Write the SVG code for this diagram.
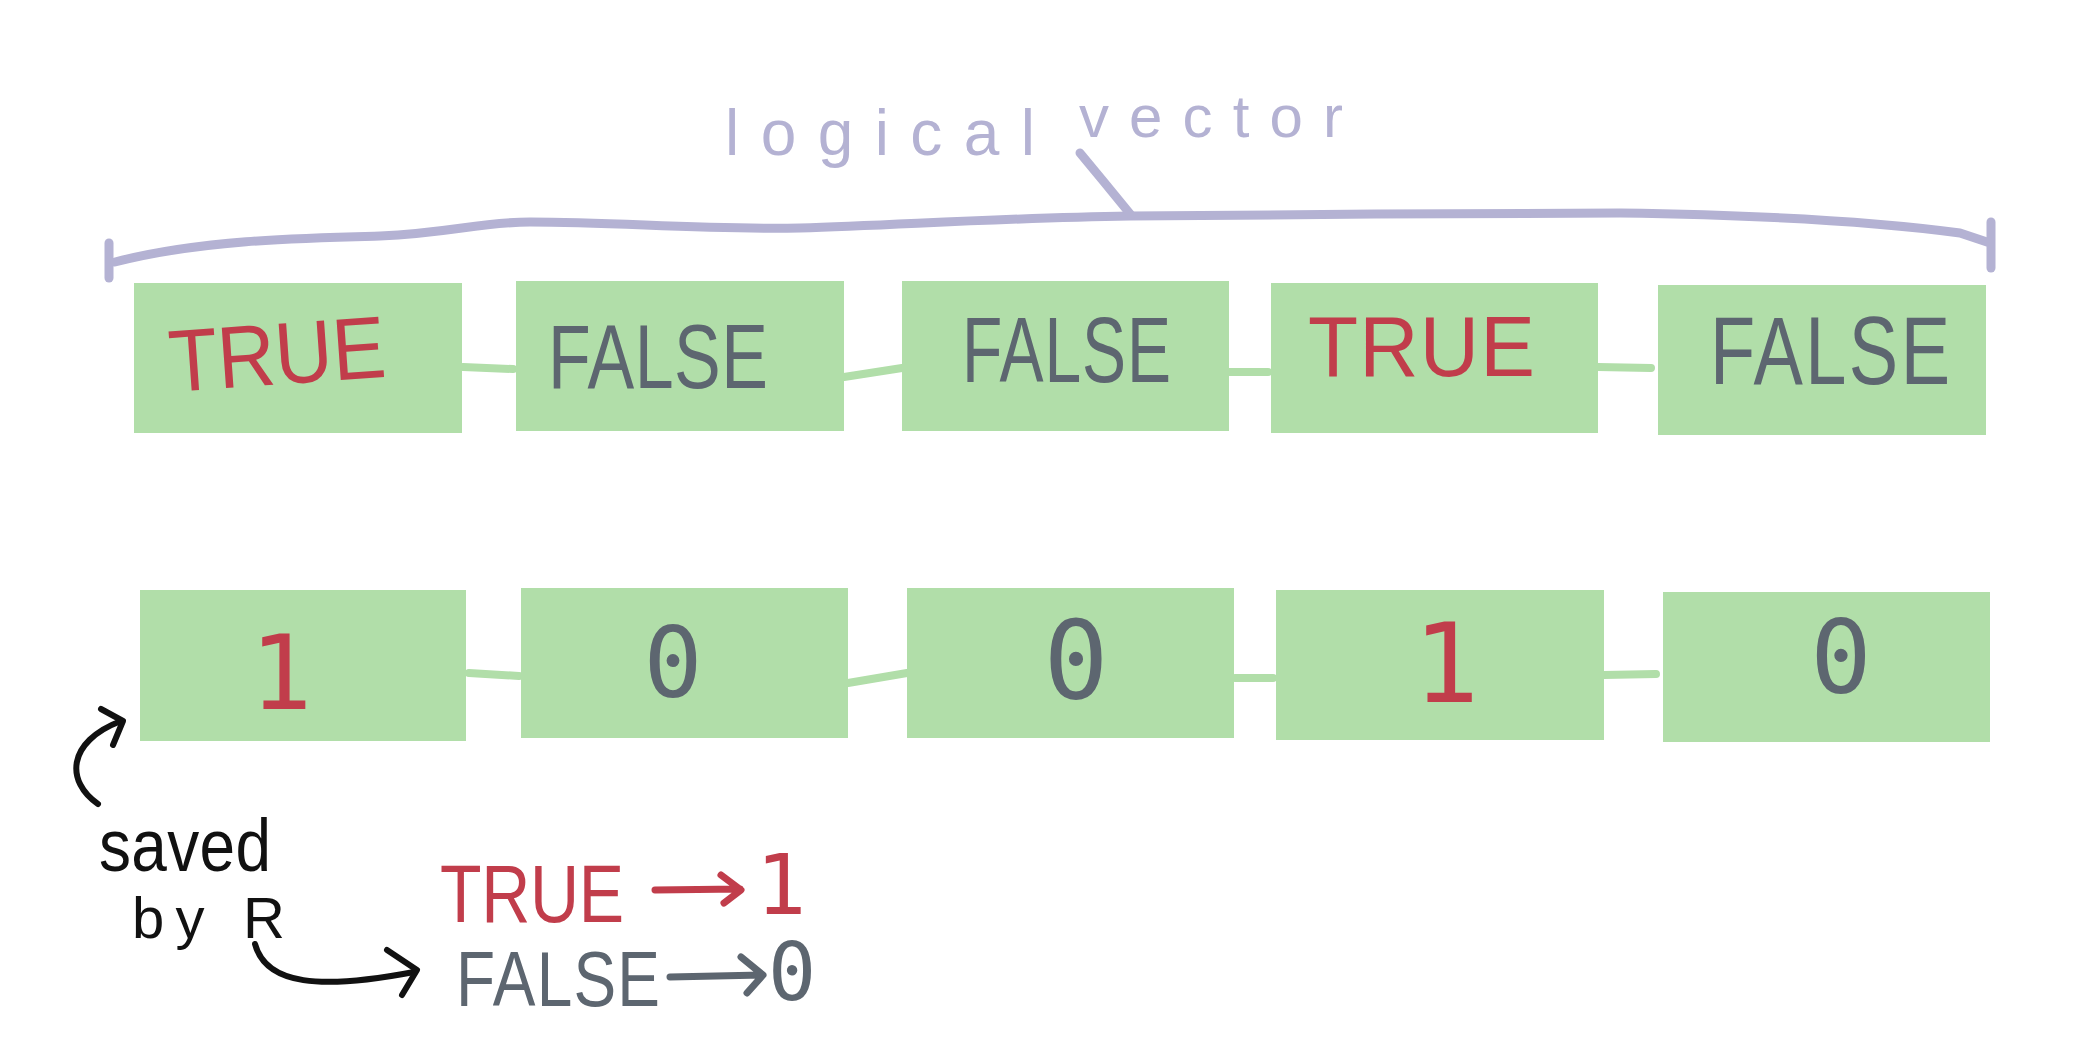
<svg xmlns="http://www.w3.org/2000/svg" width="2075" height="1038" viewBox="0 0 2075 1038">
<style>
.box{fill:#b1dea9}
.conn{stroke:#b1dea9;stroke-width:8;stroke-linecap:round;fill:none}
.lav{stroke:#b4b2d3;stroke-width:9;stroke-linecap:round;stroke-linejoin:round;fill:none}
.blk{stroke:#111;stroke-width:6;stroke-linecap:round;stroke-linejoin:round;fill:none}
.t{font-family:"Liberation Sans","DejaVu Sans",sans-serif}
.d{font-family:"DejaVu Sans Mono","Liberation Mono",monospace}
.red{fill:#c13d4b}
.gry{fill:#5d6670}
.lavt{fill:#b4b2d3}
.blkt{fill:#111}
</style>
<rect width="2075" height="1038" fill="#fff"/>
<g id="bracket">
<path class="lav" d="M109,243 L109,278"/>
<path class="lav" d="M115,262 C200,240 300,238 380,236 C450,233 480,222 530,222 C620,222 700,230 800,228 C900,225 1000,218 1130,216 C1300,215 1450,213 1620,213 C1760,215 1880,222 1960,233 L1987,242"/>
<path class="lav" d="M1991,222 L1991,268"/>
<path class="lav" d="M1080,153 L1104,182 L1131,215"/>
<text class="t lavt" x="725" y="155" font-size="64" textLength="310">logical</text>
<text class="t lavt" x="1079" y="137" font-size="60" textLength="264">vector</text>
</g>
<g id="connectors">
<path class="conn" d="M463,367 L513,369"/>
<path class="conn" d="M844,377 L902,368"/>
<path class="conn" d="M1229,372 L1268,372"/>
<path class="conn" d="M1598,367 L1651,368"/>
<path class="conn" d="M469,673 L519,676"/>
<path class="conn" d="M848,683 L907,673"/>
<path class="conn" d="M1235,678 L1273,678"/>
<path class="conn" d="M1604,675 L1656,674"/>
</g>
<g id="t1"><rect class="box" x="134" y="283" width="328" height="150"/><text class="t red" font-size="80" textLength="217" transform="translate(171 392) rotate(-4) scale(1 1.1)">TRUE</text></g>
<g id="t2"><rect class="box" x="516" y="281" width="328" height="150"/><text class="t gry" font-size="70" textLength="220" transform="translate(548 388) scale(1 1.3)">FALSE</text></g>
<g id="t3"><rect class="box" x="902" y="281" width="327" height="150"/><text class="t gry" font-size="66" textLength="209" transform="translate(962 382) scale(1 1.4)">FALSE</text></g>
<g id="t4"><rect class="box" x="1271" y="283" width="327" height="150"/><text class="t red" font-size="82" textLength="227" transform="translate(1308 376) scale(1 1.05)">TRUE</text></g>
<g id="t5"><rect class="box" x="1658" y="285" width="328" height="150"/><text class="t gry" font-size="74" textLength="240" transform="translate(1710 384) scale(1 1.3)">FALSE</text></g>
<g id="n1"><rect class="box" x="140" y="590" width="326" height="151"/><text class="d red" x="281" y="709" font-size="104" text-anchor="middle">1</text></g>
<g id="n2"><rect class="box" x="521" y="588" width="327" height="150"/><text class="d gry" x="673" y="697" font-size="98" text-anchor="middle">0</text></g>
<g id="n3"><rect class="box" x="907" y="588" width="327" height="150"/><text class="d gry" x="1076" y="698" font-size="108" text-anchor="middle">0</text></g>
<g id="n4"><rect class="box" x="1276" y="590" width="328" height="150"/><text class="d red" x="1446" y="702" font-size="110" text-anchor="middle">1</text></g>
<g id="n5"><rect class="box" x="1663" y="592" width="327" height="150"/><text class="d gry" x="1841" y="693" font-size="102" text-anchor="middle">0</text></g>
<g id="note">
<path class="blk" d="M98,804 C66,782 66,742 121,721"/>
<path class="blk" d="M101,709 L123,721 L113,745"/>
<text class="t blkt" font-size="64" textLength="172" transform="translate(99 871) scale(1 1.15)">saved</text>
<text class="t blkt" x="132" y="938" font-size="58" textLength="153">by R</text>
<path class="blk" d="M255,944 C266,985 320,990 414,972"/>
<path class="blk" d="M387,950 L417,970 L402,995"/>
</g>
<g id="legend">
<text class="t red" font-size="68" textLength="184" transform="translate(440 922) scale(1 1.2)">TRUE</text>
<path d="M655,890 L740,889 M721,875 L741,890 L724,903" stroke="#c13d4b" stroke-width="7" stroke-linecap="round" stroke-linejoin="round" fill="none"/>
<text class="d red" x="781" y="914" font-size="84" text-anchor="middle">1</text>
<text class="t gry" font-size="64" textLength="204" transform="translate(456 1006) scale(1 1.22)">FALSE</text>
<path d="M670,977 L762,975 M741,957 L763,975 L747,993" stroke="#5d6670" stroke-width="7" stroke-linecap="round" stroke-linejoin="round" fill="none"/>
<text class="d gry" x="792" y="1000" font-size="80" text-anchor="middle">0</text>
</g>
</svg>
